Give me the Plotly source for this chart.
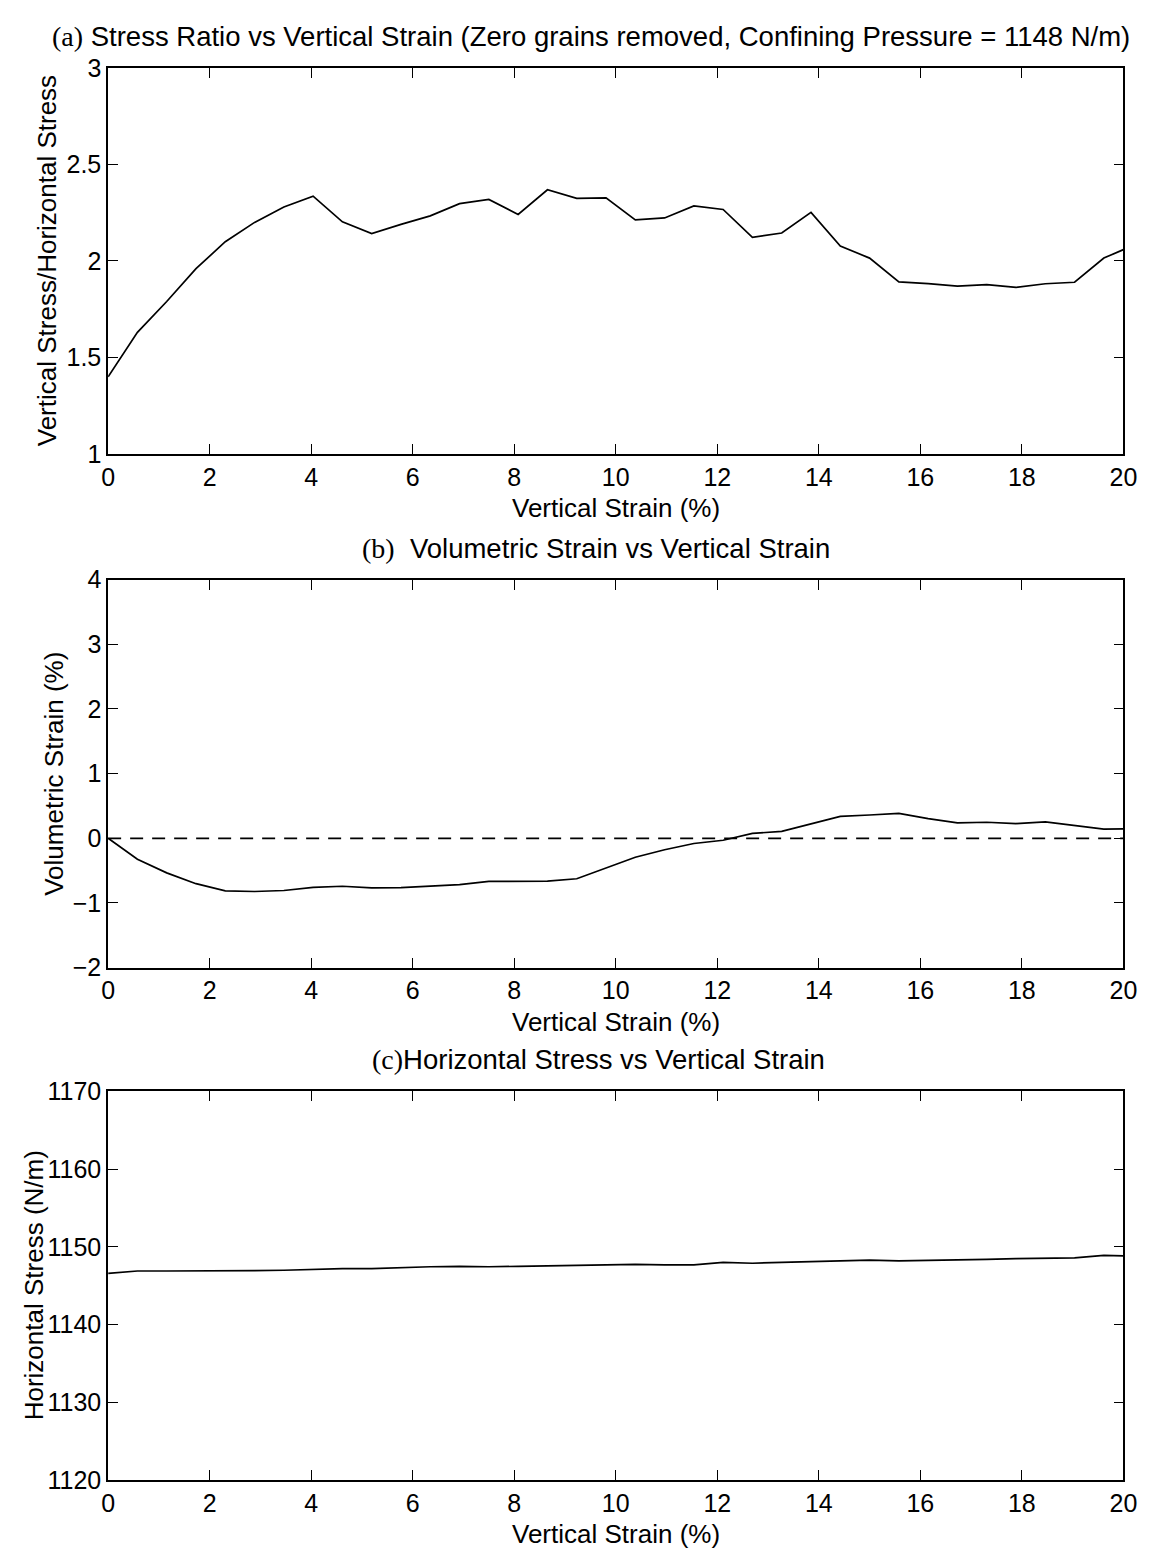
import plotly.graph_objects as go

W, H = 1159, 1562

# ---------------- data ----------------
strain = [0.0, 0.577, 1.154, 1.731, 2.308, 2.885, 3.462, 4.038, 4.615, 5.192,
          5.769, 6.346, 6.923, 7.5, 8.077, 8.654, 9.231, 9.808, 10.385, 10.962,
          11.538, 12.115, 12.692, 13.269, 13.846, 14.423, 15.0, 15.577, 16.154,
          16.731, 17.308, 17.885, 18.462, 19.038, 19.615, 20.0]

stress_ratio = [1.40, 1.63, 1.79, 1.96, 2.10, 2.20, 2.28, 2.336, 2.203, 2.142,
                2.19, 2.234, 2.297, 2.319, 2.241, 2.369, 2.325, 2.327, 2.213, 2.223,
                2.285, 2.267, 2.123, 2.145, 2.252, 2.078, 2.015, 1.892, 1.883,
                1.870, 1.878, 1.863, 1.882, 1.890, 2.015, 2.059]

vol_strain = [0.0, -0.323, -0.535, -0.702, -0.813, -0.823, -0.808, -0.758, -0.742, -0.768,
              -0.763, -0.742, -0.717, -0.667, -0.667, -0.662, -0.626, -0.456, -0.294, -0.177,
              -0.081, -0.03, 0.076, 0.106, 0.223, 0.339, 0.36, 0.385, 0.304,
              0.238, 0.248, 0.228, 0.253, 0.203, 0.142, 0.147]

horiz_stress = [1146.6, 1146.9, 1146.9, 1146.9, 1146.95, 1146.95, 1147.0, 1147.1, 1147.2, 1147.2,
                1147.35, 1147.45, 1147.5, 1147.45, 1147.5, 1147.55, 1147.6, 1147.7, 1147.75, 1147.7,
                1147.7, 1148.0, 1147.9, 1148.0, 1148.1, 1148.2, 1148.3, 1148.2, 1148.25,
                1148.35, 1148.4, 1148.5, 1148.55, 1148.6, 1148.9, 1148.85]

zero_line_x = [0, 20]
zero_line_y = [0, 0]

x_ticks = [0, 2, 4, 6, 8, 10, 12, 14, 16, 18, 20]
titles = ["Stress Ratio vs Vertical Strain (Zero grains removed, Confining Pressure = 1148 N/m)",
          "Volumetric Strain vs Vertical Strain",
          "Horizontal Stress vs Vertical Strain"]
letters = ["(a)", "(b)", "(c)"]
gaps = [" ", "&nbsp; ", ""]
y_titles = ["Vertical Stress/Horizontal Stress", "Volumetric Strain (%)", "Horizontal Stress (N/m)"]
x_title = "Vertical Strain (%)"

# ---------------- layout geometry (pixels) ----------------
XL, XR = 103, 1137
panels = [(55, 448), (576, 971), (1097, 1493)]
y_ranges = [[1, 3], [-2, 4], [1120, 1170]]
y_dticks = [0.5, 1, 10]
ytitle_x = [41, 47, 27]
title_cx = [595, 600, 602]

SANS = "Helvetica, Arial, Liberation Sans, sans-serif"
SERIF = "Times New Roman, Liberation Serif, serif"
FS = 25
FS_AX = 26
FS_T = 27.5

def px_x(p):
    return p / W

def px_y(p):
    return 1 - p / H

fig = go.Figure()

line = dict(color="black", width=1.7)
fig.add_trace(go.Scatter(x=strain, y=stress_ratio, mode="lines", line=line,
                         xaxis="x", yaxis="y", showlegend=False))
fig.add_trace(go.Scatter(x=zero_line_x, y=zero_line_y, mode="lines",
                         line=dict(color="black", width=1.7, dash="13px,9px"),
                         xaxis="x2", yaxis="y2", showlegend=False))
fig.add_trace(go.Scatter(x=strain, y=vol_strain, mode="lines", line=line,
                         xaxis="x2", yaxis="y2", showlegend=False))
fig.add_trace(go.Scatter(x=strain, y=horiz_stress, mode="lines", line=line,
                         xaxis="x3", yaxis="y3", showlegend=False))

axis_common = dict(showgrid=False, zeroline=False, showline=True, linecolor="black",
                   linewidth=1.7, mirror="ticks", ticks="inside", ticklen=10,
                   tickwidth=1.4, tickcolor="black",
                   tickfont=dict(family=SANS, size=FS, color="black"))

layout = dict(width=W, height=H, margin=dict(l=0, r=0, t=0, b=0),
              plot_bgcolor="white", paper_bgcolor="white", showlegend=False)

annotations = []
for i, (top, bot) in enumerate(panels):
    sfx = "" if i == 0 else str(i + 1)
    layout["xaxis" + sfx] = dict(axis_common, domain=[px_x(XL), px_x(XR)], range=[0, 20],
                                 tickvals=x_ticks, anchor="y" + sfx)
    layout["yaxis" + sfx] = dict(axis_common, domain=[px_y(bot), px_y(top)],
                                 range=y_ranges[i], dtick=y_dticks[i], tick0=y_ranges[i][0],
                                 anchor="x" + sfx)
    # panel title
    annotations.append(dict(
        x=px_x(title_cx[i]), y=px_y(top - 32), xref="paper", yref="paper",
        text=f"<span style='font-family:{SERIF};font-size:28px'>{letters[i]}</span>{gaps[i]}{titles[i]}",
        showarrow=False, font=dict(family=SANS, size=FS_T, color="black"),
        xanchor="center", yanchor="middle"))
    # x axis title
    annotations.append(dict(
        x=px_x((XL + XR) / 2), y=px_y(bot + 55), xref="paper", yref="paper",
        text=x_title, showarrow=False, font=dict(family=SANS, size=FS_AX, color="black"),
        xanchor="center", yanchor="middle"))
    # y axis title
    annotations.append(dict(
        x=px_x(ytitle_x[i]), y=px_y((top + bot) / 2), xref="paper", yref="paper",
        text=y_titles[i], showarrow=False, textangle=-90,
        font=dict(family=SANS, size=FS_AX, color="black"),
        xanchor="center", yanchor="middle"))

layout["annotations"] = annotations
fig.update_layout(**layout)
fig.write_html("out.html")
